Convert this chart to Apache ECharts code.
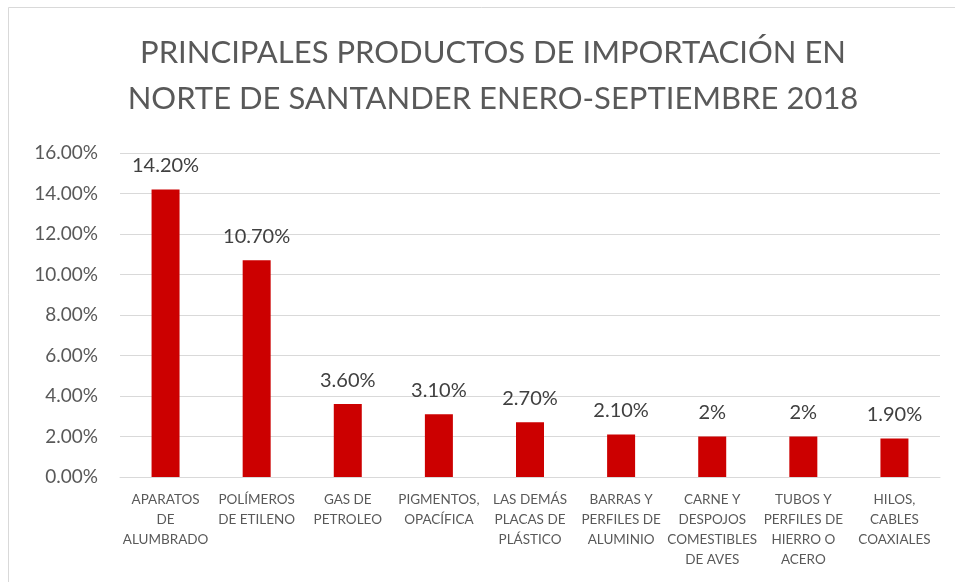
<!DOCTYPE html>
<html><head><meta charset="utf-8">
<script src="https://cdn.jsdelivr.net/npm/echarts@6/dist/echarts.min.js"></script>
<style>
html,body{margin:0;padding:0;background:#fff;}
#c{width:955px;height:582px;}
</style></head>
<body><div id="c"></div>
<script>
var titleText = 'PRINCIPALES PRODUCTOS DE IMPORTACIÓN EN\nNORTE DE SANTANDER ENERO-SEPTIEMBRE 2018';
var categories = [
  'APARATOS\nDE\nALUMBRADO',
  'POLÍMEROS\nDE ETILENO',
  'GAS DE\nPETROLEO',
  'PIGMENTOS,\nOPACÍFICA',
  'LAS DEMÁS\nPLACAS DE\nPLÁSTICO',
  'BARRAS Y\nPERFILES DE\nALUMINIO',
  'CARNE Y\nDESPOJOS\nCOMESTIBLES\nDE AVES',
  'TUBOS Y\nPERFILES DE\nHIERRO O\nACERO',
  'HILOS,\nCABLES\nCOAXIALES'
];
var values = [14.2, 10.7, 3.6, 3.1, 2.7, 2.1, 2.0, 2.0, 1.9];
var valueLabels = ['14.20%', '10.70%', '3.60%', '3.10%', '2.70%', '2.10%', '2%', '2%', '1.90%'];

var chart = echarts.init(document.getElementById('c'));
var font = 'Lato, "Open Sans", sans-serif';
chart.setOption({
  animation: false,
  backgroundColor: '#fff',
  graphic: [
    {type: 'line', shape: {x1: 8.5, y1: 7.5, x2: 955, y2: 7.5}, style: {stroke: '#d9d9d9', lineWidth: 1}},
    {type: 'line', shape: {x1: 8.5, y1: 7.5, x2: 8.5, y2: 582}, style: {stroke: '#d9d9d9', lineWidth: 1}}
  ],
  title: {
    text: titleText,
    left: 488, top: 25, textAlign: 'center',
    textStyle: {fontFamily: font, fontSize: 31, fontWeight: 'normal', color: '#595959', lineHeight: 46}
  },
  grid: {left: 120, right: 15, top: 153, bottom: 105, containLabel: false},
  xAxis: {
    type: 'category', data: categories,
    axisLine: {lineStyle: {color: '#d9d9d9'}},
    axisTick: {show: false},
    axisLabel: {interval: 0, margin: 13, color: '#595959', fontFamily: font, fontSize: 13.5, lineHeight: 20, align: 'center'}
  },
  yAxis: {
    type: 'value', min: 0, max: 16, interval: 2,
    axisLine: {show: false}, axisTick: {show: false},
    splitLine: {lineStyle: {color: '#d9d9d9'}},
    axisLabel: {margin: 22, color: '#595959', fontFamily: font, fontSize: 19,
      formatter: function (v) { return v.toFixed(2) + '%'; }}
  },
  series: [{
    type: 'bar', data: values, barWidth: 28,
    itemStyle: {color: '#CC0000'},
    label: {show: true, position: 'top', distance: 14, color: '#404040', fontFamily: font, fontSize: 20,
      formatter: function (p) { return valueLabels[p.dataIndex]; }}
  }]
});
</script></body></html>
